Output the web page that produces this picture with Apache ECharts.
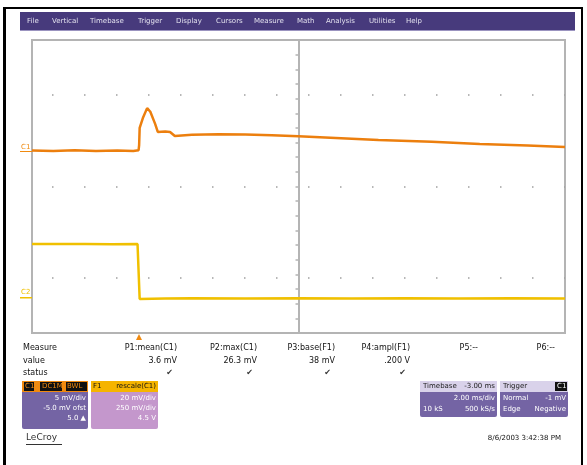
<!DOCTYPE html>
<html>
<head>
<meta charset="utf-8">
<script src="https://cdn.jsdelivr.net/npm/echarts@6/dist/echarts.min.js"></script>
<style>
  html, body { margin: 0; padding: 0; background: #fff; }
  #scope { width: 587px; height: 465px; }
</style>
</head>
<body>
<div id="scope"></div>
<script>
// time in divisions (-5..5), amplitude in divisions (-4..4)
const c1Time = [-5, -4.6, -4.2, -3.8, -3.4, -3.1, -3.0, -2.99, -2.98, -2.92, -2.84, -2.78, -2.69, -2.64, -2.5, -2.41, -2.32, -2.0, -1.5, -1.0, -0.5, 0, 0.6, 1.5, 2.5, 3.4, 4.3, 5];
const c1Value = [0.98, 0.97, 0.99, 0.97, 0.98, 0.97, 0.99, 1.13, 1.6, 1.87, 2.14, 2.04, 1.71, 1.49, 1.5, 1.49, 1.38, 1.41, 1.43, 1.42, 1.4, 1.37, 1.33, 1.27, 1.22, 1.16, 1.12, 1.08];
const c2Time = [-5, -4, -3.5, -3.02, -2.99, -2.98, -2.5, -2.0, -1.0, 0, 1.0, 2.0, 3.0, 4.0, 5];
const c2Value = [-1.57, -1.57, -1.58, -1.57, -1.6, -3.07, -3.06, -3.05, -3.06, -3.05, -3.06, -3.05, -3.06, -3.05, -3.06];
const dotRows = [2.5, 0, -2.5];

const menuItems = ['File', 'Vertical', 'Timebase', 'Trigger', 'Display', 'Cursors', 'Measure', 'Math', 'Analysis', 'Utilities', 'Help'];
const menuX = [27, 52, 90, 138, 176, 216, 254, 297, 326, 369, 406];
const paramNames = ['P1:mean(C1)', 'P2:max(C1)', 'P3:base(F1)', 'P4:ampl(F1)', 'P5:--', 'P6:--'];
const paramValues = ['3.6 mV', '26.3 mV', '38 mV', '.200 V', '', ''];
const paramStatus = ['\u2714', '\u2714', '\u2714', '\u2714', '', ''];
const paramRight = [177, 257, 335, 410, 478, 555];

const chart = echarts.init(document.getElementById('scope'));

const pair = (xs, ys) => xs.map((x, i) => [x, ys[i]]);

const gfx = [];
// outer black frame
gfx.push({ type: 'rect', shape: { x: 3, y: 8, width: 3, height: 460 }, style: { fill: '#000' } });
gfx.push({ type: 'rect', shape: { x: 3, y: 7, width: 580, height: 2 }, style: { fill: '#000' } });
gfx.push({ type: 'rect', shape: { x: 581, y: 7, width: 2, height: 460 }, style: { fill: '#000' } });
// menu bar
gfx.push({ type: 'rect', shape: { x: 20, y: 12, width: 555, height: 19 }, style: { fill: '#473a7c' } });
gfx.push({ type: 'rect', shape: { x: 20, y: 30, width: 555, height: 1 }, style: { fill: '#9b94c0' } });
menuItems.forEach((m, i) => {
  gfx.push({ type: 'text', x: menuX[i], y: 21, style: { text: m, fill: '#e2e0ee', font: '7px "DejaVu Sans"', verticalAlign: 'middle' } });
});
// channel markers
gfx.push({ type: 'text', x: 21, y: 147, style: { text: 'C1', fill: '#f08a10', font: '7px "DejaVu Sans"', verticalAlign: 'middle' } });
gfx.push({ type: 'rect', shape: { x: 20, y: 151, width: 12, height: 1 }, style: { fill: '#f08a10' } });
gfx.push({ type: 'text', x: 21, y: 292, style: { text: 'C2', fill: '#f0c000', font: '7px "DejaVu Sans"', verticalAlign: 'middle' } });
gfx.push({ type: 'rect', shape: { x: 20, y: 297, width: 12, height: 1.5 }, style: { fill: '#f0c000' } });
// trigger marker
gfx.push({ type: 'polygon', shape: { points: [[136, 340], [142, 340], [139, 334]] }, style: { fill: '#f08a10' } });

// measure table
const txt = (x, y, s, align, color, font) => gfx.push({ type: 'text', x: x, y: y, style: { text: s, fill: color || '#111', font: font || '8px "DejaVu Sans"', align: align || 'left', verticalAlign: 'middle' } });
txt(23, 348, 'Measure');
txt(23, 361, 'value');
txt(23, 373, 'status');
paramNames.forEach((p, i) => {
  txt(paramRight[i], 348, p, 'right');
  txt(paramRight[i], 361, paramValues[i], 'right');
  txt(paramRight[i] - 4, 373, paramStatus[i], 'right', '#333');
});

// channel descriptor boxes
const box = (x, y, w, h, headFill, bodyFill) => {
  gfx.push({ type: 'rect', shape: { x: x, y: y, width: w, height: h, r: 2 }, style: { fill: bodyFill } });
  gfx.push({ type: 'rect', shape: { x: x, y: y, width: w, height: 11 }, style: { fill: headFill } });
};
box(22, 381, 66, 48, '#f08a10', '#7464a4');
gfx.push({ type: 'rect', shape: { x: 24, y: 382, width: 10, height: 9 }, style: { fill: '#111' } });
gfx.push({ type: 'rect', shape: { x: 40, y: 382, width: 22, height: 9 }, style: { fill: '#111' } });
gfx.push({ type: 'rect', shape: { x: 66, y: 382, width: 21, height: 9 }, style: { fill: '#111' } });
txt(25, 386.5, 'C1', 'left', '#f08a10', '7px "DejaVu Sans"');
txt(42, 386.5, 'DC1M', 'left', '#f08a10', '7px "DejaVu Sans"');
txt(67, 386.5, 'BWL', 'left', '#f08a10', '7px "DejaVu Sans"');
txt(86, 398, '5 mV/div', 'right', '#fff', '7px "DejaVu Sans"');
txt(86, 408, '-5.0 mV ofst', 'right', '#fff', '7px "DejaVu Sans"');
txt(86, 418, '5.0 \u25B2', 'right', '#fff', '7px "DejaVu Sans"');

box(91, 381, 67, 48, '#f5b400', '#c497cc');
txt(93, 386.5, 'F1', 'left', '#111', '7px "DejaVu Sans"');
txt(156, 386.5, 'rescale(C1)', 'right', '#111', '7px "DejaVu Sans"');
txt(156, 398, '20 mV/div', 'right', '#fff', '7px "DejaVu Sans"');
txt(156, 408, '250 mV/div', 'right', '#fff', '7px "DejaVu Sans"');
txt(156, 418, '4.5 V', 'right', '#fff', '7px "DejaVu Sans"');

box(420, 381, 77, 36, '#d9d2ea', '#7464a4');
txt(423, 386.5, 'Timebase', 'left', '#222', '7px "DejaVu Sans"');
txt(495, 386.5, '-3.00 ms', 'right', '#222', '7px "DejaVu Sans"');
txt(495, 398, '2.00 ms/div', 'right', '#fff', '7px "DejaVu Sans"');
txt(423, 409, '10 kS', 'left', '#fff', '7px "DejaVu Sans"');
txt(495, 409, '500 kS/s', 'right', '#fff', '7px "DejaVu Sans"');

box(500, 381, 68, 36, '#d9d2ea', '#7464a4');
gfx.push({ type: 'rect', shape: { x: 555, y: 382, width: 12, height: 9 }, style: { fill: '#111' } });
txt(503, 386.5, 'Trigger', 'left', '#222', '7px "DejaVu Sans"');
txt(557, 386.5, 'C1', 'left', '#fff', '7px "DejaVu Sans"');
txt(503, 398, 'Normal', 'left', '#fff', '7px "DejaVu Sans"');
txt(566, 398, '-1 mV', 'right', '#fff', '7px "DejaVu Sans"');
txt(503, 409, 'Edge', 'left', '#fff', '7px "DejaVu Sans"');
txt(566, 409, 'Negative', 'right', '#fff', '7px "DejaVu Sans"');

// footer
txt(26, 438, 'LeCroy', 'left', '#333', '9px "DejaVu Sans"');
gfx.push({ type: 'rect', shape: { x: 26, y: 444, width: 36, height: 1 }, style: { fill: '#333' } });
txt(561, 438, '8/6/2003 3:42:38 PM', 'right', '#111', '7px "DejaVu Sans"');

chart.setOption({
  animation: false,
  backgroundColor: '#fff',
  grid: { left: 32, top: 40, width: 533, height: 293, show: true, borderColor: '#b4b4b4', borderWidth: 2, backgroundColor: 'transparent' },
  xAxis: {
    type: 'value', min: -5, max: 5, interval: 1,
    axisLine: { show: false }, axisTick: { show: false }, axisLabel: { show: false }, splitLine: { show: false }
  },
  yAxis: {
    type: 'value', min: -4, max: 4, interval: 0.4,
    axisLine: { show: true, onZero: true, lineStyle: { color: '#b4b4b4', width: 2 } },
    axisTick: { show: true, length: 3, lineStyle: { color: '#b4b4b4', width: 1.5 } },
    axisLabel: { show: false }, splitLine: { show: false }
  },
  graphic: gfx,
  series: [
    {
      name: 'grid dots', type: 'line', data: [], silent: true,
      markLine: {
        symbol: 'none', silent: true, label: { show: false },
        lineStyle: { color: '#a0a0a0', width: 1.5, type: [1.5, 30.5], dashOffset: -20 },
        data: dotRows.map(v => ({ yAxis: v }))
      }
    },
    {
      name: 'C2', type: 'line', data: pair(c2Time, c2Value), showSymbol: false,
      lineStyle: { color: '#f0c000', width: 2.5 }
    },
    {
      name: 'C1', type: 'line', data: pair(c1Time, c1Value), showSymbol: false,
      lineStyle: { color: '#ec7f0e', width: 2.5 }
    }
  ]
});
</script>
</body>
</html>
